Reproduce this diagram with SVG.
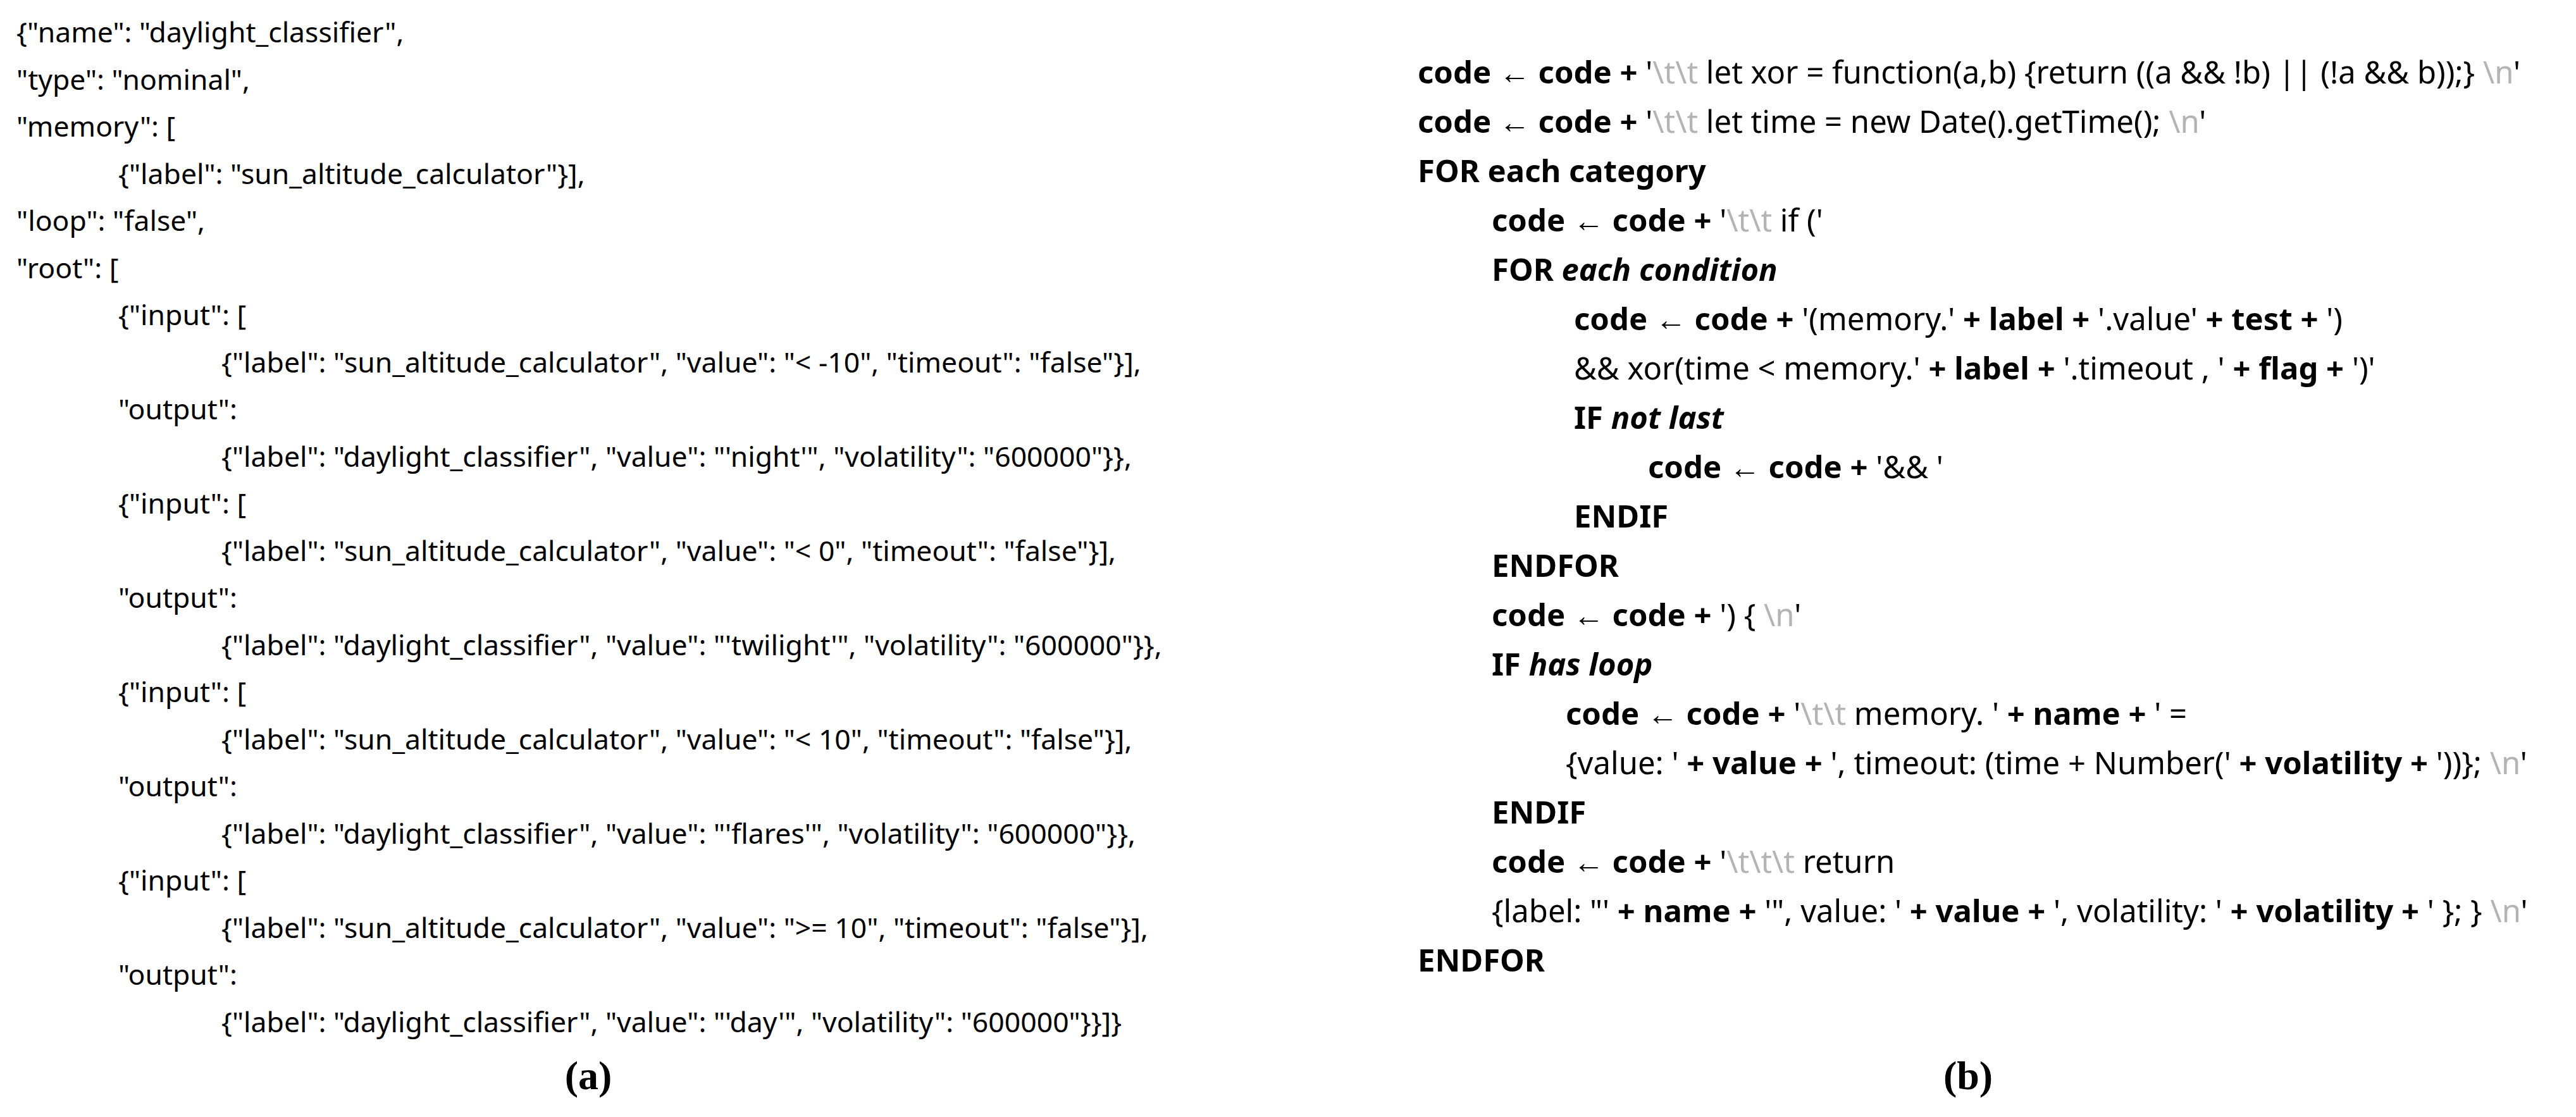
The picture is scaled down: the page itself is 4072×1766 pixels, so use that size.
<svg xmlns="http://www.w3.org/2000/svg" width="4072" height="1766" viewBox="0 0 4072 1766">
<style>
.a{font-family:"Noto Sans","Liberation Sans",sans-serif;font-size:44.5px;fill:#000}
.b{font-family:"Noto Sans","Liberation Sans",sans-serif;font-size:49px;fill:#000}
.k{font-weight:bold}
.i{font-style:italic;font-weight:bold}
.g{fill:#b4b4b4}
.cap{font-family:"Liberation Serif",serif;font-size:64px;font-weight:bold;text-anchor:middle}
</style>
<rect width="4072" height="1766" fill="#fff"/>
<g id="panel-a" class="a">
<text x="26" y="67">{"name": "daylight_classifier",</text>
<text x="26" y="142">"type": "nominal",</text>
<text x="26" y="216">"memory": [</text>
<text x="187" y="291">{"label": "sun_altitude_calculator"}],</text>
<text x="26" y="365">"loop": "false",</text>
<text x="26" y="440">"root": [</text>
<text x="187" y="514">{"input": [</text>
<text x="350" y="589">{"label": "sun_altitude_calculator", "value": "&lt; -10", "timeout": "false"}],</text>
<text x="187" y="663">"output":</text>
<text x="350" y="738">{"label": "daylight_classifier", "value": "'night'", "volatility": "600000"}},</text>
<text x="187" y="812">{"input": [</text>
<text x="350" y="887">{"label": "sun_altitude_calculator", "value": "&lt; 0", "timeout": "false"}],</text>
<text x="187" y="961">"output":</text>
<text x="350" y="1036">{"label": "daylight_classifier", "value": "'twilight'", "volatility": "600000"}},</text>
<text x="187" y="1110">{"input": [</text>
<text x="350" y="1185">{"label": "sun_altitude_calculator", "value": "&lt; 10", "timeout": "false"}],</text>
<text x="187" y="1259">"output":</text>
<text x="350" y="1334">{"label": "daylight_classifier", "value": "'flares'", "volatility": "600000"}},</text>
<text x="187" y="1408">{"input": [</text>
<text x="350" y="1483">{"label": "sun_altitude_calculator", "value": "&gt;= 10", "timeout": "false"}],</text>
<text x="187" y="1557">"output":</text>
<text x="350" y="1632">{"label": "daylight_classifier", "value": "'day'", "volatility": "600000"}}]}</text>
</g>
<g id="panel-b" class="b">
<text x="2241" y="132"><tspan class="k">code ← code +</tspan> '<tspan class="g">\t\t</tspan> let xor = function(a,b) {return ((a &amp;&amp; !b) || (!a &amp;&amp; b));} <tspan class="g">\n</tspan>'</text>
<text x="2241" y="210"><tspan class="k">code ← code +</tspan> '<tspan class="g">\t\t</tspan> let time = new Date().getTime(); <tspan class="g">\n</tspan>'</text>
<text x="2241" y="288" class="k">FOR each category</text>
<text x="2358" y="366"><tspan class="k">code ← code +</tspan> '<tspan class="g">\t\t</tspan> if ('</text>
<text x="2358" y="444"><tspan class="k">FOR</tspan> <tspan class="i">each condition</tspan></text>
<text x="2488" y="522"><tspan class="k">code ← code +</tspan> '(memory.' <tspan class="k">+ label +</tspan> '.value' <tspan class="k">+ test +</tspan> ')</text>
<text x="2488" y="600">&amp;&amp; xor(time &lt; memory.' <tspan class="k">+ label +</tspan> '.timeout , ' <tspan class="k">+ flag +</tspan> ')'</text>
<text x="2488" y="678"><tspan class="k">IF</tspan> <tspan class="i">not last</tspan></text>
<text x="2605" y="756"><tspan class="k">code ← code +</tspan> '&amp;&amp; '</text>
<text x="2488" y="834" class="k">ENDIF</text>
<text x="2358" y="912" class="k">ENDFOR</text>
<text x="2358" y="990"><tspan class="k">code ← code +</tspan> ') { <tspan class="g">\n</tspan>'</text>
<text x="2358" y="1068"><tspan class="k">IF</tspan> <tspan class="i">has loop</tspan></text>
<text x="2475" y="1146"><tspan class="k">code ← code +</tspan> '<tspan class="g">\t\t</tspan> memory. ' <tspan class="k">+ name +</tspan> ' =</text>
<text x="2475" y="1224">{value: ' <tspan class="k">+ value +</tspan> ', timeout: (time + Number(' <tspan class="k">+ volatility +</tspan> '))}; <tspan class="g">\n</tspan>'</text>
<text x="2358" y="1302" class="k">ENDIF</text>
<text x="2358" y="1380"><tspan class="k">code ← code +</tspan> '<tspan class="g">\t\t\t</tspan> return</text>
<text x="2358" y="1458">{label: "' <tspan class="k">+ name +</tspan> '", value: ' <tspan class="k">+ value +</tspan> ', volatility: ' <tspan class="k">+ volatility +</tspan> ' }; } <tspan class="g">\n</tspan>'</text>
<text x="2241" y="1536" class="k">ENDFOR</text>
</g>
<g id="captions">
<text class="cap" x="930" y="1722">(a)</text>
<text class="cap" x="3111" y="1722">(b)</text>
</g>
</svg>
